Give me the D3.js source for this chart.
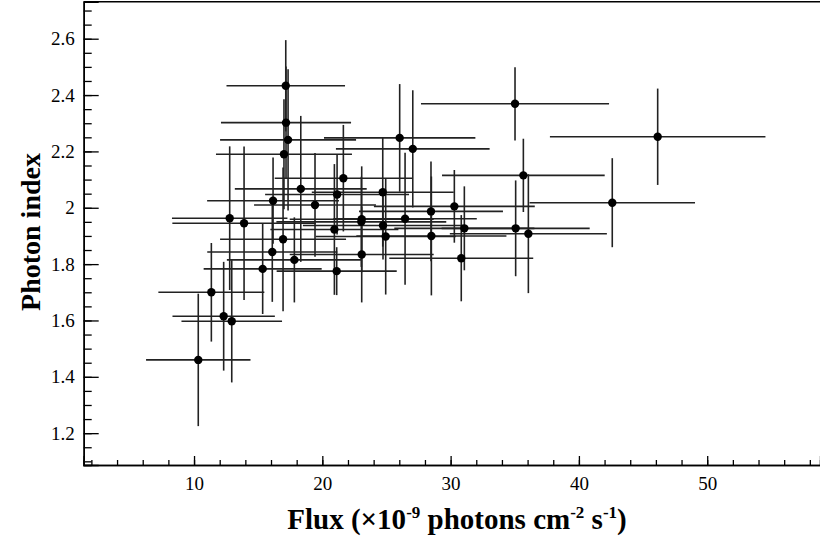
<!DOCTYPE html>
<html>
<head>
<meta charset="utf-8">
<script src="https://cdn.jsdelivr.net/npm/d3@7"></script>
<style>
  html, body { margin: 0; padding: 0; background: #fff; }
  svg { display: block; }
  text { font-family: "Liberation Serif", "Times New Roman", serif; }
</style>
</head>
<body>
<svg id="chart" width="820" height="537"></svg>
<script>
// ---- data ----
const flux = [10.33, 11.35, 12.31, 12.94, 12.78, 13.90, 15.35, 16.10, 16.16, 16.94,
              17.01, 17.17, 17.15, 17.33, 17.82, 18.32, 19.43, 20.94, 21.12, 21.15,
              21.64, 23.07, 23.07, 23.04, 24.71, 24.73, 24.94, 26.03, 27.05, 26.45,
              28.47, 28.50, 30.29, 30.83, 31.07, 35.02, 35.67, 35.07, 36.06, 42.60, 46.14];
const fluxErr = [4.07, 4.13, 3.99, 3.92, 4.50, 5.59, 4.60, 5.07, 5.14, 4.91,
                 5.30, 5.07, 4.62, 5.30, 5.26, 5.14, 4.75, 4.99, 4.68, 5.61,
                 5.35, 5.61, 5.61, 6.62, 5.53, 6.24, 5.46, 5.90, 5.99, 5.59,
                 5.61, 5.85, 6.27, 5.61, 5.46, 7.33, 6.34, 5.77, 6.12, 6.45, 8.40];
const photonIndex = [1.460, 1.700, 1.615, 1.597, 1.963, 1.945, 1.783, 1.843, 2.025, 1.888,
                     2.190, 2.302, 2.433, 2.241, 1.815, 2.067, 2.010, 1.923, 1.775, 2.047,
                     2.105, 1.959, 1.834, 1.950, 2.055, 1.937, 1.898, 2.248, 2.209, 1.961,
                     1.987, 1.900, 2.005, 1.821, 1.927, 2.369, 2.115, 1.927, 1.908, 2.018, 2.252];
const indexErr = [0.235, 0.175, 0.193, 0.217, 0.255, 0.272, 0.160, 0.177, 0.153, 0.255,
                  0.195, 0.199, 0.162, 0.251, 0.151, 0.259, 0.184, 0.232, 0.085, 0.142,
                  0.189, 0.188, 0.170, 0.160, 0.193, 0.121, 0.206, 0.191, 0.208, 0.234,
                  0.177, 0.211, 0.129, 0.153, 0.149, 0.130, 0.130, 0.170, 0.211, 0.158, 0.171];

const xMajorTicks = [10, 20, 30, 40, 50];
const xMinorTicks = d3.range(2, 59, 2);
const yMajorTicks = [1.2, 1.4, 1.6, 1.8, 2, 2.2, 2.4, 2.6];
const yMajorLabels = ["1.2", "1.4", "1.6", "1.8", "2", "2.2", "2.4", "2.6"];
const yMinorTicks = d3.range(1.1, 2.751, 0.05).map(v => +v.toFixed(2));

// ---- layout ----
const svg = d3.select("#chart");
const x = d3.scaleLinear().domain([1.4, 58.8]).range([83.7, 820.1]);
const y = d3.scaleLinear().domain([1.087, 2.731]).range([465, 1.8]);

const plot = svg.append("g");

// frame: top line
plot.append("line")
  .attr("x1", x(1.4)).attr("x2", 820)
  .attr("y1", y(2.731)).attr("y2", y(2.731))
  .attr("stroke", "#000").attr("stroke-width", 1.5);

// axes (inward ticks)
const xAxisMinor = d3.axisBottom(x).tickValues(xMinorTicks).tickSize(-5).tickFormat("");
const xAxisMajor = d3.axisBottom(x).tickValues(xMajorTicks).tickSize(-9).tickPadding(12)
  .tickFormat(d => String(d));
const yAxisMinor = d3.axisLeft(y).tickValues(yMinorTicks).tickSize(-8).tickFormat("");
const yAxisMajor = d3.axisLeft(y).tickValues(yMajorTicks).tickSize(-15).tickPadding(9)
  .tickFormat((d, i) => yMajorLabels[i]);

function styleAxis(g) {
  g.select(".domain").attr("stroke", "#000").attr("stroke-width", 1.5);
  g.selectAll(".tick line").attr("stroke", "#000").attr("stroke-width", 1.3);
  g.selectAll(".tick text").attr("fill", "#000")
    .style("font-family", "'Liberation Serif', serif").style("font-size", "19px");
}

const gx1 = svg.append("g").attr("transform", `translate(0,${y.range()[0]})`).call(xAxisMinor);
const gx2 = svg.append("g").attr("transform", `translate(0,${y.range()[0]})`).call(xAxisMajor);
const gy1 = svg.append("g").attr("transform", `translate(${x.range()[0]},0)`).call(yAxisMinor);
const gy2 = svg.append("g").attr("transform", `translate(${x.range()[0]},0)`).call(yAxisMajor);
[gx1, gx2, gy1, gy2].forEach(styleAxis);

// ---- error bars ----
const data = flux.map((f, i) => ({ f, fe: fluxErr[i], p: photonIndex[i], pe: indexErr[i] }));
const eb = svg.append("g").attr("stroke", "#222").attr("stroke-width", 1.6);
eb.selectAll("line.h").data(data).join("line").attr("class", "h")
  .attr("x1", d => x(d.f - d.fe)).attr("x2", d => x(d.f + d.fe))
  .attr("y1", d => y(d.p)).attr("y2", d => y(d.p));
eb.selectAll("line.v").data(data).join("line").attr("class", "v")
  .attr("x1", d => x(d.f)).attr("x2", d => x(d.f))
  .attr("y1", d => y(d.p - d.pe)).attr("y2", d => y(d.p + d.pe));

// ---- markers ----
svg.append("g").selectAll("circle").data(data).join("circle")
  .attr("cx", d => x(d.f)).attr("cy", d => y(d.p)).attr("r", 4.2).attr("fill", "#000");

// ---- axis titles ----
const xt = svg.append("text")
  .attr("x", 457).attr("y", 529).attr("text-anchor", "middle")
  .style("font-size", "29px").style("font-weight", "bold").attr("fill", "#000");
xt.append("tspan").text("Flux (×10");
xt.append("tspan").attr("dy", -11).style("font-size", "17px").text("-9");
xt.append("tspan").attr("dy", 11).text(" photons cm");
xt.append("tspan").attr("dy", -11).style("font-size", "17px").text("-2");
xt.append("tspan").attr("dy", 11).text(" s");
xt.append("tspan").attr("dy", -11).style("font-size", "17px").text("-1");
xt.append("tspan").attr("dy", 11).text(")");

svg.append("text")
  .attr("transform", "translate(40,232) rotate(-90)")
  .attr("text-anchor", "middle")
  .style("font-size", "28px").style("font-weight", "bold").attr("fill", "#000")
  .text("Photon index");
</script>
</body>
</html>
